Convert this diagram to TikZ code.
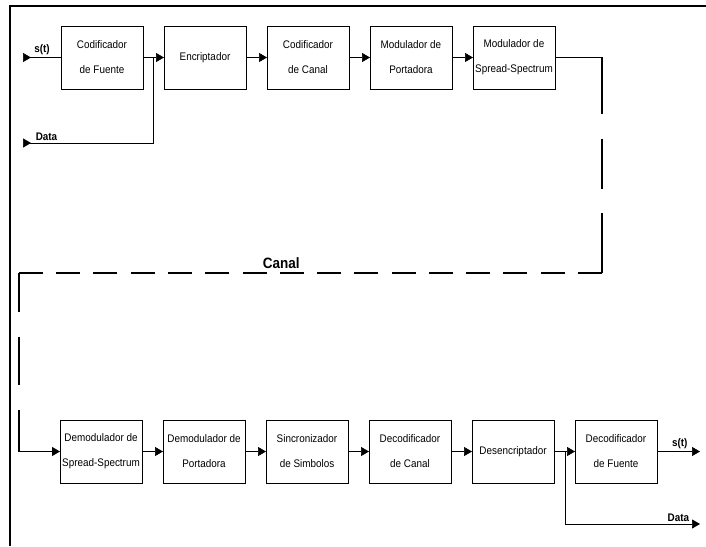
\documentclass[tikz,border=0pt]{standalone}
\usepackage{fontspec}
\setmainfont{Liberation Sans}[FakeStretch=0.9]
\usepackage{tikz}
\usetikzlibrary{positioning,arrows.meta}
\tikzset{
    block/.style={
        rectangle, draw, line width=0.9pt,
        minimum width=82pt, minimum height=63pt,
        inner sep=1pt, outer sep=0pt,
        align=center, font=\fontsize{11}{25}\selectfont
    },
    sig/.style={
        font=\fontsize{11}{13}\selectfont\bfseries, inner sep=2pt
    },
    link/.style={->, line width=0.7pt},
    feed/.style={{Triangle[reversed,length=8pt,width=9pt]}-, line width=0.7pt},
    chan/.style={line width=1.3pt}
}

\begin{document}
\begin{tikzpicture}[x=1pt, y=-1pt, >={Triangle[length=8pt,width=9pt]}]

        \useasboundingbox (0,0) rectangle (706,546);

        % Frame
        \draw[line width=1.2pt] (10,546) -- (10,6) -- (706,6);

        % Transmitter
        \node[block] (cf) at (102,57.5) {Codificador\\de Fuente};
        \node[block, right=21pt of cf] (enc) {Encriptador};
        \node[block, right=21pt of enc] (cc) {Codificador\\de Canal};
        \node[block, right=21pt of cc] (mp) {Modulador de\\Portadora};
        \node[block, right=21pt of mp] (mss) {Modulador de\\Spread-Spectrum};

        % Receiver
        \node[block] (dss) at (101,451.5) {Demodulador de\\Spread-Spectrum};
        \node[block, right=21pt of dss] (dp) {Demodulador de\\Portadora};
        \node[block, right=21pt of dp] (sinc) {Sincronizador\\de Simbolos};
        \node[block, right=21pt of sinc] (dc) {Decodificador\\de Canal};
        \node[block, right=21pt of dc] (des) {Desencriptador};
        \node[block, right=21pt of des] (df) {Decodificador\\de Fuente};

        % Inputs
        \coordinate (sin) at (23,57.5);
        \coordinate (din) at (23,143);
        \coordinate[right=10.5pt of cf.east] (j1);

        % Outputs
        \coordinate[right=11pt of des.east] (j2);
        \coordinate (sout) at (700,451.5);
        \coordinate (dout) at (700,524);

        % Channel corners
        \coordinate (ch1) at (602,273);
        \coordinate (ch2) at (19,273);

        % Arrows
        \draw[feed] (sin) -- node[sig, above, pos=0.5] (sl1) {s(t)} (cf);
        \draw[feed] (din) -| node[sig, above, pos=0.09] (dl1) {Data} (j1);

        \draw[link] (cf) -- (enc);
        \draw[link] (enc) -- (cc);
        \draw[link] (cc) -- (mp);
        \draw[link] (mp) -- (mss);

        \draw[chan, dash pattern=on 103pt off 25pt on 50pt off 24pt on 80pt off 10pt] (mss.east) -| (ch1);
        \draw[chan, dash pattern=on 24pt off 13.27pt] (ch1) -- node[above, pos=0.55, font=\fontsize{15}{17}\selectfont\bfseries] (canal) {Canal} (ch2);
        \draw[chan, ->, dash pattern=on 39pt off 25pt on 48pt off 25pt on 200pt off 10pt] (ch2) |- (dss.west);

        \draw[link] (dss) -- (dp);
        \draw[link] (dp) -- (sinc);
        \draw[link] (sinc) -- (dc);
        \draw[link] (dc) -- (des);
        \draw[link] (des) -- (df);

        \draw[link] (df) -- node[sig, above, pos=0.53] (sl2) {s(t)} (sout);
        \draw[link] (j2) |- node[sig, above, pos=0.92] (dl2) {Data} (dout);

    \end{tikzpicture}
\end{document}
